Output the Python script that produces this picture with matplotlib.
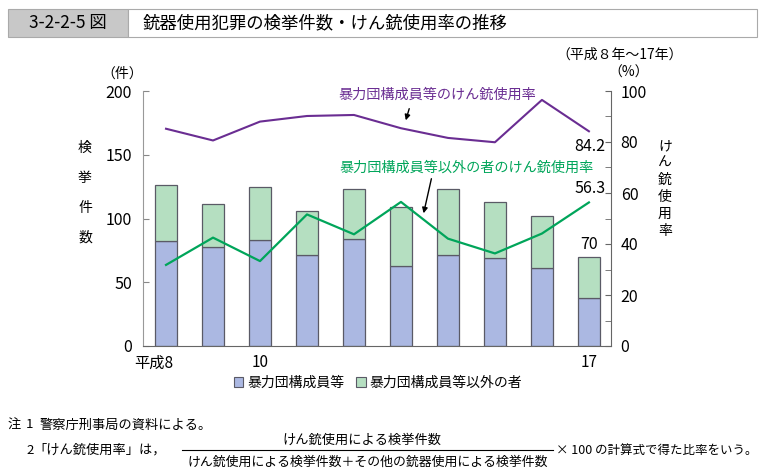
import numpy as np
import matplotlib
matplotlib.use('Agg')
import matplotlib.pyplot as plt
from matplotlib.patches import Rectangle
from matplotlib.lines import Line2D
import matplotlib.transforms as mtransforms

plt.rcParams['font.family'] = ['Noto Sans CJK JP', 'DejaVu Sans']

# data (平成8年～17年)
years = ['平成8', '', '10', '', '', '', '', '', '', '17']
boryokudan = [82, 78, 83, 71, 84, 63, 71, 69, 61, 38]
others = [44, 33, 42, 35, 39, 46, 52, 44, 41, 32]
rate_boryokudan = [85.2, 80.6, 88.0, 90.2, 90.6, 85.4, 81.6, 79.9, 96.5, 84.2]
rate_others = [31.8, 42.5, 33.3, 51.6, 43.8, 56.5, 42.1, 36.3, 44.1, 56.3]

W, H = 765, 476
fig = plt.figure(figsize=(W / 100, H / 100), dpi=100)


def fx(x):
    return x / W


def fy(y):
    return 1 - y / H


blue = '#abb8e2'
green = '#b5dfc1'
purple = '#6a2d92'
lgreen = '#00a55a'
edge = '#5a5a66'

ax = fig.add_axes([fx(143), fy(346), fx(611 - 143), (346 - 91) / H])
ax2 = ax.twinx()

x = np.arange(len(years))
total = np.array(boryokudan) + np.array(others)
ax.bar(x, boryokudan, width=0.47, color=blue, edgecolor=edge, linewidth=0.9, zorder=2)
ax.bar(x, others, bottom=boryokudan, width=0.47, color=green, edgecolor=edge, linewidth=0.9, zorder=2)
ax.text(x[-1], total[-1] + 3, str(total[-1]), ha='center', va='bottom', fontsize=11.5)

ax.set_xlim(-0.49, 9.47)
ax.set_ylim(0, 200)
ax.set_yticks([0, 50, 100, 150, 200])
ax.set_xticks(x)
ax.set_xticklabels(years, fontsize=11)
ax.tick_params(axis='x', length=0, pad=6)
ax.tick_params(axis='y', direction='in', length=4, labelsize=11.5, pad=8, color='#888')
lab0 = ax.get_xticklabels()[0]
lab0.set_horizontalalignment('right')
lab0.set_transform(lab0.get_transform() + mtransforms.ScaledTranslation(7 / 100, 0, fig.dpi_scale_trans))

for s in ['top', 'right']:
    ax.spines[s].set_visible(False)
ax.spines['left'].set_color('#999')
ax.spines['bottom'].set_color('#666')

ax2.plot(x, rate_boryokudan, color=purple, lw=1.5, zorder=3)
ax2.plot(x, rate_others, color=lgreen, lw=1.6, zorder=3)
ax2.set_ylim(0, 100)
ax2.set_yticks([0, 20, 40, 60, 80, 100])
ax2.set_yticks(np.arange(10, 100, 20), minor=True)
ax2.tick_params(axis='y', which='both', direction='in', length=4, labelsize=11.5, pad=7, color='#666')
for s in ['top', 'left', 'bottom']:
    ax2.spines[s].set_visible(False)
ax2.spines['right'].set_color('#666')
ax2.text(x[-1] + 0.35, rate_boryokudan[-1] - 2.5, f'{rate_boryokudan[-1]:.1f}', ha='right', va='top', fontsize=11.5)
ax2.text(x[-1] + 0.35, rate_others[-1] + 2.2, f'{rate_others[-1]:.1f}', ha='right', va='bottom', fontsize=11.5)

# annotations
fig.text(fx(338), fy(95), '暴力団構成員等のけん銃使用率', color=purple, fontsize=10.2, va='center')
fig.text(fx(339), fy(168), '暴力団構成員等以外の者のけん銃使用率', color=lgreen, fontsize=10.2, va='center')
ax2.annotate('', xy=(fx(405), fy(123)), xytext=(fx(410), fy(106)), xycoords='figure fraction',
             textcoords='figure fraction', arrowprops=dict(arrowstyle='-|>', color='black', lw=1, mutation_scale=8))
ax2.annotate('', xy=(fx(423), fy(216)), xytext=(fx(432), fy(176)), xycoords='figure fraction',
             textcoords='figure fraction', arrowprops=dict(arrowstyle='-|>', color='black', lw=1, mutation_scale=8))

# axis titles
fig.text(fx(122), fy(74), '（件）', fontsize=10, ha='center', va='center')
for i, ch in enumerate('検挙件数'):
    fig.text(fx(85), fy(148 + i * 30), ch, fontsize=10, ha='center', va='center')
fig.text(fx(629), fy(73), '（%）', fontsize=10, ha='center', va='center')
fig.text(fx(620), fy(55), '（平成８年～17年）', fontsize=10, ha='center', va='center')
for i, ch in enumerate('けん銃使用率'):
    fig.text(fx(665), fy(146 + i * 17), ch, fontsize=10, ha='center', va='center')

# legend
handles = [Rectangle((0, 0), 1, 1, facecolor=blue, edgecolor=edge, lw=0.8),
           Rectangle((0, 0), 1, 1, facecolor=green, edgecolor=edge, lw=0.8)]
fig.legend(handles, ['暴力団構成員等', '暴力団構成員等以外の者'], loc='center', bbox_to_anchor=(fx(378), fy(383)),
           ncol=2, frameon=False, fontsize=10, handlelength=0.7, handleheight=0.7, handletextpad=0.3,
           columnspacing=0.8)

# title bar
fig.patches.append(Rectangle((fx(8), fy(37)), fx(120), 28 / H, transform=fig.transFigure,
                             facecolor='#c8c8c8', edgecolor='#aaa', lw=0.8))
fig.patches.append(Rectangle((fx(128), fy(37)), fx(629), 28 / H, transform=fig.transFigure,
                             facecolor='white', edgecolor='#aaa', lw=0.8))
fig.text(fx(68), fy(23), '3-2-2-5 図', fontsize=12.5, ha='center', va='center')
fig.text(fx(143), fy(23), '銃器使用犯罪の検挙件数・けん銃使用率の推移', fontsize=12.5, ha='left', va='center')

# notes
fig.text(fx(8), fy(425), '注', fontsize=9.5, va='center')
fig.text(fx(26), fy(425), '1', fontsize=9.5, va='center')
fig.text(fx(40), fy(425), '警察庁刑事局の資料による。', fontsize=9.5, va='center')
fig.text(fx(26), fy(450), '2', fontsize=9.5, va='center')
fig.text(fx(33), fy(450), '「けん銃使用率」は，', fontsize=9.5, va='center')
fig.text(fx(362), fy(440), 'けん銃使用による検挙件数', fontsize=9.5, ha='center', va='center')
fig.add_artist(Line2D([fx(182), fx(553)], [fy(450), fy(450)], color='black', lw=0.8))
fig.text(fx(368), fy(462), 'けん銃使用による検挙件数＋その他の銃器使用による検挙件数', fontsize=9.3, ha='center', va='center')
fig.text(fx(556), fy(450), '× 100 の計算式で得た比率をいう。', fontsize=9, va='center')

fig.savefig('out.png', dpi=100)
